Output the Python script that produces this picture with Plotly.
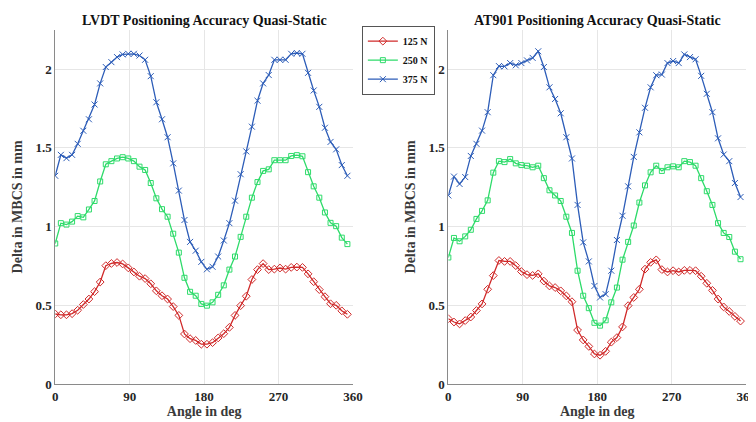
import plotly.graph_objects as go

# sampling angles (deg): 53 equally spaced positions over one turn
angles = [round(i * 360 / 53, 2) for i in range(53)]

tick_vals_x = [0, 90, 180, 270, 360]
tick_text_x = ["0", "90", "180", "270", "360"]
tick_vals_y = [0, 0.5, 1, 1.5, 2]
tick_text_y = ["0", "0.5", "1", "1.5", "2"]

series_names = ["125 N", "250 N", "375 N"]

lvdt_125 = [0.445, 0.44, 0.44, 0.447, 0.469, 0.505, 0.54, 0.587, 0.648, 0.752,
            0.766, 0.772, 0.763, 0.738, 0.712, 0.685, 0.67, 0.637, 0.592, 0.561,
            0.54, 0.492, 0.436, 0.318, 0.288, 0.277, 0.253, 0.253, 0.263, 0.293,
            0.32, 0.36, 0.436, 0.498, 0.558, 0.664, 0.727, 0.765, 0.727, 0.73,
            0.737, 0.73, 0.741, 0.743, 0.741, 0.70, 0.65, 0.60, 0.555, 0.51,
            0.50, 0.465, 0.443]
lvdt_250 = [0.893, 1.022, 1.013, 1.032, 1.067, 1.059, 1.109, 1.163, 1.287, 1.396,
            1.416, 1.433, 1.441, 1.433, 1.416, 1.381, 1.36, 1.277, 1.18, 1.111,
            1.063, 0.955, 0.835, 0.675, 0.586, 0.561, 0.509, 0.498, 0.519, 0.567,
            0.627, 0.727, 0.81, 0.935, 1.063, 1.184, 1.283, 1.354, 1.364, 1.422,
            1.422, 1.422, 1.449, 1.454, 1.447, 1.346, 1.256, 1.184, 1.09, 1.024,
            1.003, 0.93, 0.889]
lvdt_375 = [1.323, 1.456, 1.435, 1.456, 1.526, 1.609, 1.682, 1.776, 1.91, 2.014,
            2.045, 2.077, 2.094, 2.098, 2.098, 2.087, 2.06, 1.956, 1.79, 1.682,
            1.568, 1.402, 1.229, 1.042, 0.903, 0.847, 0.776, 0.729, 0.745, 0.81,
            0.912, 1.022, 1.165, 1.333, 1.478, 1.635, 1.80, 1.91, 1.963, 2.06,
            2.06, 2.06, 2.098, 2.103, 2.098, 1.977, 1.865, 1.761, 1.628, 1.538,
            1.491, 1.391, 1.323]

at901_125 = [0.415, 0.394, 0.382, 0.403, 0.426, 0.467, 0.509, 0.602, 0.689, 0.785,
             0.779, 0.779, 0.752, 0.715, 0.695, 0.69, 0.70, 0.654, 0.623, 0.613,
             0.592, 0.56, 0.523, 0.343, 0.28, 0.239, 0.191, 0.183, 0.208, 0.266,
             0.295, 0.363, 0.498, 0.55, 0.602, 0.73, 0.773, 0.789, 0.727, 0.712,
             0.72, 0.712, 0.722, 0.722, 0.72, 0.685, 0.64, 0.595, 0.54, 0.49,
             0.461, 0.43, 0.40]
at901_250 = [0.804, 0.928, 0.907, 0.938, 0.98, 1.049, 1.10, 1.167, 1.343, 1.416,
             1.41, 1.429, 1.402, 1.391, 1.387, 1.377, 1.387, 1.308, 1.231, 1.198,
             1.163, 1.063, 0.96, 0.72, 0.561, 0.482, 0.389, 0.371, 0.405, 0.519,
             0.613, 0.79, 0.903, 1.007, 1.153, 1.262, 1.345, 1.387, 1.354, 1.377,
             1.383, 1.377, 1.416, 1.41, 1.387, 1.308, 1.225, 1.138, 1.022, 0.96,
             0.934, 0.841, 0.793]
at901_375 = [1.198, 1.318, 1.271, 1.315, 1.449, 1.526, 1.61, 1.727, 1.962, 2.02,
             2.018, 2.039, 2.025, 2.039, 2.056, 2.072, 2.114, 2.014, 1.885, 1.811,
             1.72, 1.568, 1.433, 1.138, 0.90, 0.779, 0.623, 0.55, 0.571, 0.72,
             0.915, 1.069, 1.256, 1.443, 1.599, 1.755, 1.885, 1.962, 1.966, 2.039,
             2.052, 2.039, 2.094, 2.077, 2.063, 1.958, 1.844, 1.727, 1.561, 1.458,
             1.416, 1.277, 1.188]

titles = ["LVDT Positioning Accuracy Quasi-Static", "AT901 Positioning Accuracy Quasi-Static"]

colors = ["#D02A2A", "#2EDB6A", "#2D5DB8"]
symbols = ["diamond-open", "square-open", "x-thin-open"]
msizes = [6, 5, 6]

W, H = 756, 422
FONT = "Liberation Serif"

fig = go.Figure()

panels = [
    (lvdt_125, lvdt_250, lvdt_375),
    (at901_125, at901_250, at901_375),
]

for p, data in enumerate(panels):
    xa = "x" if p == 0 else "x2"
    ya = "y" if p == 0 else "y2"
    for k, vals in enumerate(data):
        fig.add_trace(go.Scatter(
            x=angles, y=vals, mode="lines+markers",
            name=series_names[k], showlegend=(p == 0),
            line=dict(color=colors[k], width=1.3),
            marker=dict(symbol=symbols[k], size=msizes[k], color=colors[k],
                        line=dict(color=colors[k], width=1)),
            xaxis=xa, yaxis=ya,
        ))

xdom = [[45 / W, 348 / W], [445 / W, 748 / W]]
ydom = [(H - 383.3) / H, (H - 22.3) / H]

axis_common = dict(
    showgrid=True, gridcolor="#E6E6E6", gridwidth=1,
    showline=True, linecolor="#8A8A8A", linewidth=1,
    zeroline=False, ticks="",
    tickfont=dict(family=FONT, size=13, color="#262626", weight="bold"),
)

for p in range(2):
    sfx = "" if p == 0 else "2"
    fig.layout["xaxis" + sfx] = dict(
        axis_common, domain=xdom[p], range=[0, 360],
        tickvals=tick_vals_x, ticktext=tick_text_x,
        anchor="y" + sfx,
        title=dict(text="Angle in deg",
                   font=dict(family=FONT, size=14, color="#3a3a3a", weight="bold"),
                   standoff=3),
    )
    fig.layout["yaxis" + sfx] = dict(
        axis_common, domain=ydom, range=[0, 2.25],
        tickvals=tick_vals_y, ticktext=tick_text_y,
        anchor="x" + sfx,
        title=dict(text="Delta in MBCS in mm",
                   font=dict(family=FONT, size=14, color="#3a3a3a", weight="bold"),
                   standoff=9),
    )
    fig.add_annotation(
        text=titles[p], xref="paper", yref="paper",
        x=(xdom[p][0] + xdom[p][1]) / 2, y=(H - 13) / H,
        xanchor="center", yanchor="middle", showarrow=False,
        font=dict(family=FONT, size=14, color="#111111", weight="bold"),
    )

fig.update_layout(
    width=W, height=H,
    margin=dict(l=0, r=0, t=0, b=0),
    paper_bgcolor="white", plot_bgcolor="white",
    legend=dict(
        x=357 / W, y=(H - 18) / H, xanchor="left", yanchor="top",
        bgcolor="white", bordercolor="#555555", borderwidth=1,
        font=dict(family=FONT, size=10, color="#111111", weight="bold"),
        itemwidth=30, tracegroupgap=0,
    ),
)

fig.write_html("out.html")
